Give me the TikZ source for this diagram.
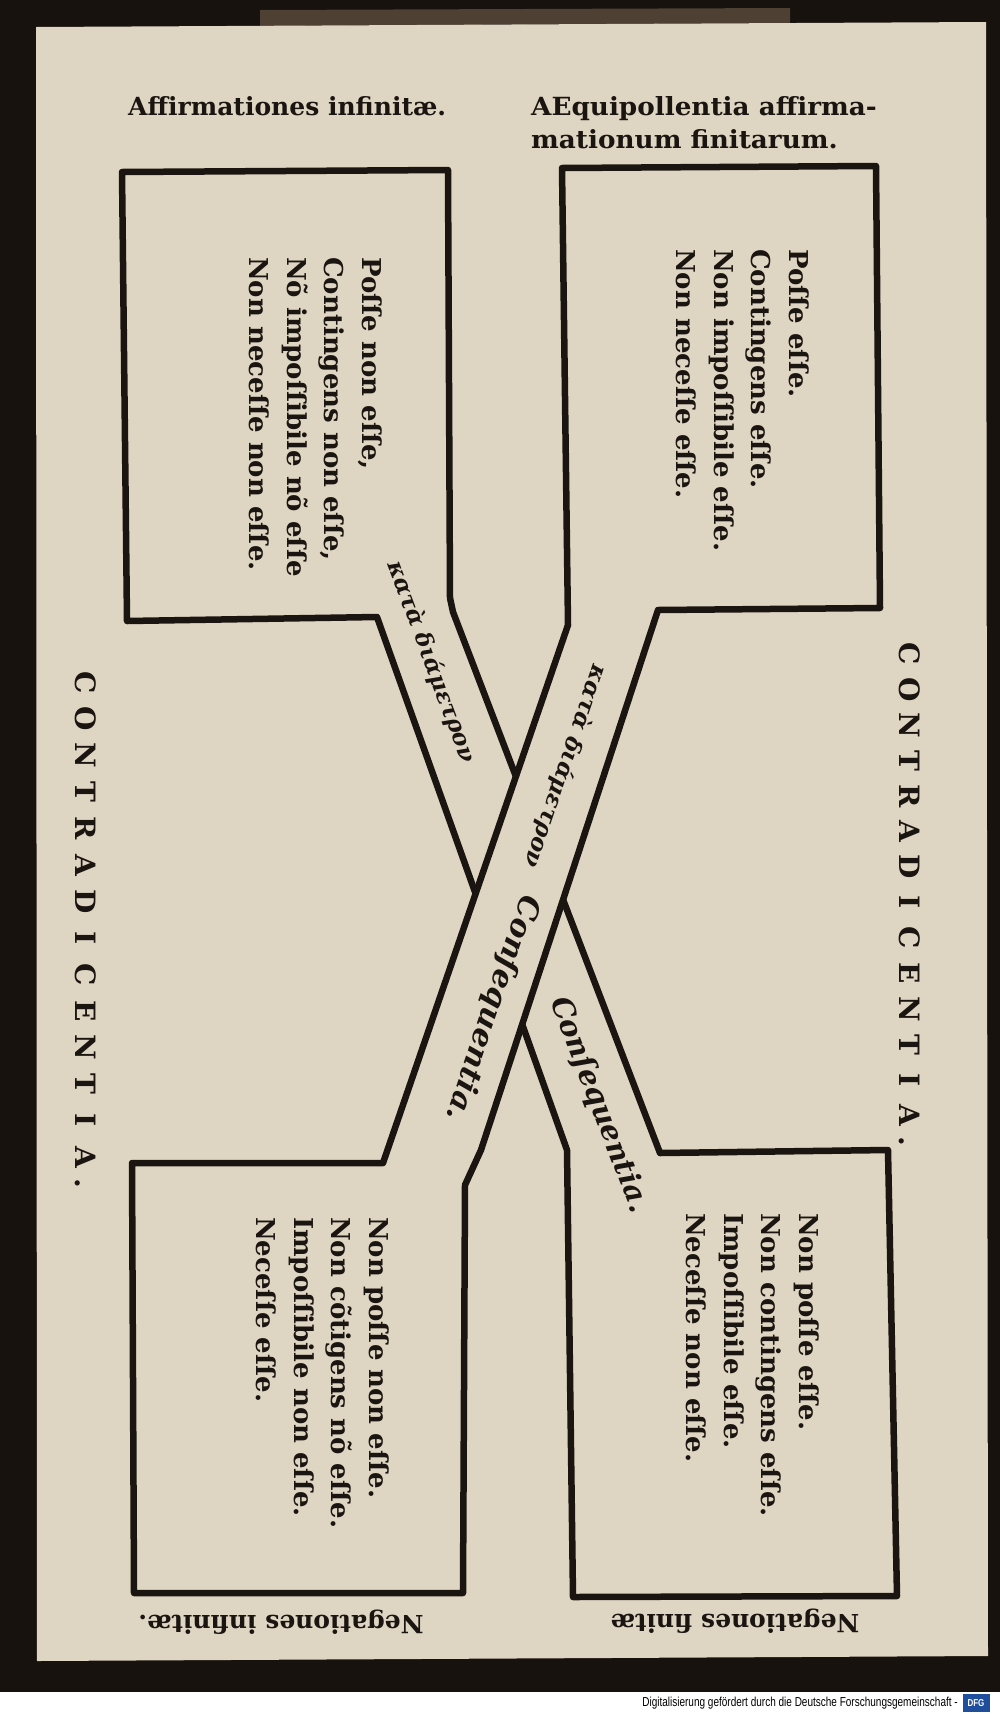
\documentclass[tikz,border=0pt]{standalone}
\usepackage{fontspec}
\usepackage{graphicx}
\setmainfont{DejaVu Serif}
\newfontfamily\footfont{Liberation Sans}
\definecolor{paper}{HTML}{DFD5C3}
\definecolor{ink}{HTML}{1A1510}
\definecolor{framecol}{HTML}{17120D}
\definecolor{topshade}{HTML}{4E4032}
\definecolor{dfgblue}{HTML}{1F4E9C}
\newlength\lspw
\setlength\lspw{36.5pt}
\newcommand\lsp[1]{\makebox[\lspw]{#1}}
\newcommand\lspdot{\makebox[16pt]{.}}
\begin{document}
\begin{tikzpicture}[x=1pt,y=-1pt,
  outline/.style={draw=ink,line width=6.5pt,line join=round,fill=paper},
  boxtext/.style={rotate=-90,anchor=north west,align=left,inner sep=0pt,text=ink,
    font=\bfseries\fontsize{26}{37.5}\selectfont},
  hdr/.style={inner sep=0pt,text=ink,font=\bfseries\fontsize{25}{25}\selectfont},
  bandtext/.style={anchor=west,inner sep=0pt,text=ink,font=\bfseries\itshape\fontsize{23}{23}\selectfont},
  bigband/.style={bandtext,font=\bfseries\itshape\fontsize{30}{30}\selectfont},
  sidetext/.style={rotate=-90,anchor=west,inner sep=0pt,text=ink,font=\bfseries\fontsize{28}{28}\selectfont}]
\useasboundingbox (0,0) rectangle (1000,1714);
% frame and page
\fill[framecol] (0,0) rectangle (1000,1692);
\fill[white] (0,1692) rectangle (1000,1714);
\fill[topshade] (260,10) -- (790,8) -- (790,23) -- (260,26) -- cycle;
\fill[paper] (36,27) -- (986,22) -- (988,1656) -- (37,1661) -- cycle;

% shape A: top-left box, band, bottom-right box
\draw[outline] (122,172) -- (448,170) -- (450,598) -- (453,612) -- (660,1153)
  -- (888,1150) -- (897,1596) -- (573,1597) -- (567,1150) -- (377,617)
  -- (127,621) -- cycle;
% shape B: top-right box, band, bottom-left box (lies over the other band)
\draw[outline] (562,168) -- (876,166) -- (880,608) -- (658,610) -- (481,1150)
  -- (465,1185) -- (463,1593) -- (134,1593) -- (132,1163) -- (383,1163)
  -- (568,625) -- cycle;

% headings
\node[hdr,anchor=base west] (h1) at (128,115) {Affirmationes infinitæ.};
\node[hdr,anchor=base west] (h2a) at (531,115) {\scalebox{1.05}[1]{AEquipollentia affirma-}};
\node[hdr,anchor=base west] (h2b) at (531,148) {\scalebox{1.05}[1]{mationum finitarum.}};
\node[hdr,rotate=180] (f1) at (281,1622) {Negationes infinitæ.};
\node[hdr,rotate=180] (f2) at (735,1621) {Negationes finitæ};

% box texts
\node[boxtext] (tl) at (382,257) {Poſſe non eſſe,\\Contingens non eſſe,\\Nõ impoſſibile nõ eſſe\\Non neceſſe non eſſe.};
\node[boxtext] (tr) at (809,249) {Poſſe eſſe.\\Contingens eſſe.\\Non impoſſibile eſſe.\\Non neceſſe eſſe.};
\node[boxtext] (bl) at (389,1217) {Non poſſe non eſſe.\\Non cõtigens nõ eſſe.\\Impoſſibile non eſſe.\\Neceſſe eſſe.};
\node[boxtext] (br) at (819,1213) {Non poſſe eſſe.\\Non contingens eſſe.\\Impoſſibile eſſe.\\Neceſſe non eſſe.};

% band texts
\node[bandtext,rotate=-69.5] (b1a) at (394,562) {κατὰ διάμετρον};
\node[bigband,rotate=-69,font=\bfseries\itshape\fontsize{29}{29}\selectfont] (b1b) at (558,998) {Conſequentia.};
\node[bandtext,rotate=-108.8] (b2a) at (600,665) {κατὰ διάμετρον};
\node[bigband,rotate=-108.8] (b2b) at (530,896) {Conſequentia.};

% side texts
\node[sidetext] (cl) at (86,664) {\lsp{C}\lsp{O}\lsp{N}\lsp{T}\lsp{R}\lsp{A}\lsp{D}\lsp{I}\lsp{C}\lsp{E}\lsp{N}\lsp{T}\lsp{I}\lsp{A}\lspdot};
\node[sidetext] (cr) at (910,636) {\setlength\lspw{35.5pt}\lsp{C}\lsp{O}\lsp{N}\lsp{T}\lsp{R}\lsp{A}\lsp{D}\lsp{I}\lsp{C}\lsp{E}\lsp{N}\lsp{T}\lsp{I}\lsp{A}\lspdot};

% footer
\node[anchor=east,inner sep=0pt,font=\footfont\fontsize{13}{13}\selectfont] (ft) at (958,1703)
  {\scalebox{0.77}[1]{Digitalisierung gefördert durch die Deutsche Forschungsgemeinschaft -}};
\node[fill=dfgblue,text=white,inner sep=0pt,minimum width=27pt,minimum height=18pt,
  font=\footfont\bfseries\fontsize{10}{10}\selectfont] (dfg) at (976,1703) {\scalebox{0.8}[1]{DFG}};
\end{tikzpicture}
\end{document}
